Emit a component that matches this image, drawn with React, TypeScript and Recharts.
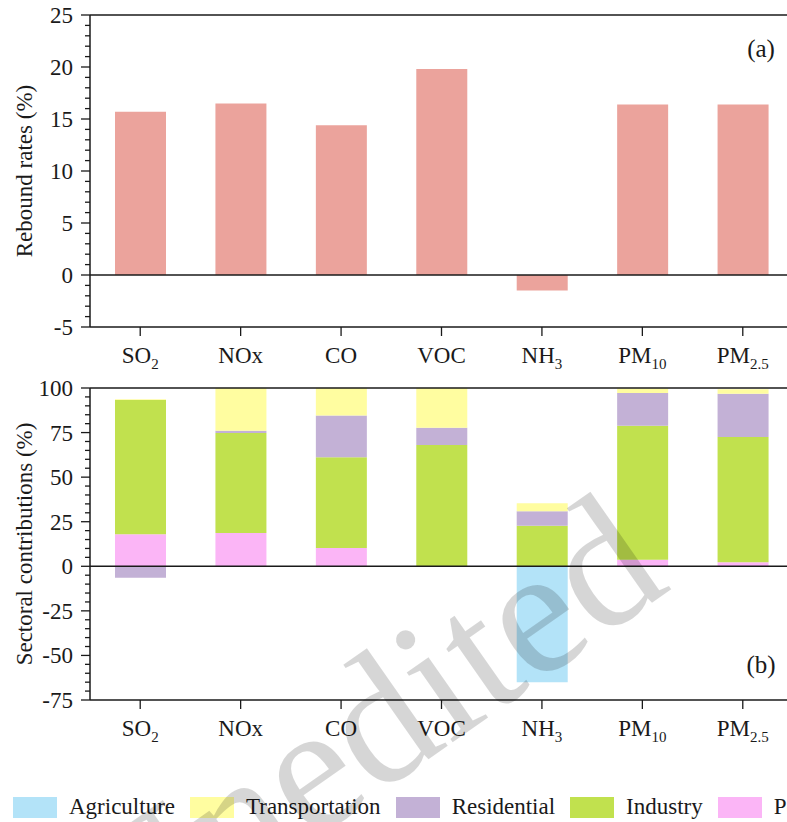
import { BarChart, Bar, XAxis, YAxis, ReferenceLine } from 'recharts';

// pollutant categories (digits after the letters are drawn as subscripts)
const categories = ['SO2', 'NOx', 'CO', 'VOC', 'NH3', 'PM10', 'PM2.5'];

// (a) rebound rates, %
const reboundRates = [15.7, 16.5, 14.4, 19.8, -1.5, 16.4, 16.4];

// (b) sectoral contributions, %
const power = [18.0, 18.7, 10.3, 0, 0, 3.7, 2.2];
const industry = [75.3, 56.0, 50.9, 68.0, 22.8, 75.1, 70.3];
const residential = [-6.4, 1.3, 23.4, 9.7, 8.1, 18.4, 24.3];
const transportation = [0.4, 24.0, 15.4, 22.3, 4.5, 2.5, 2.5];
const agriculture = [0, 0, 0, 0, -65.0, 0, 0];

const ticksA = Array.from({ length: 31 }, (_, i) => i - 5);
const ticksB = Array.from({ length: 36 }, (_, i) => i * 5 - 75);

// legend order as shown below the chart
const sectors = [
  { key: 'agriculture', name: 'Agriculture', color: '#b3e3f8' },
  { key: 'transportation', name: 'Transportation', color: '#fffda0' },
  { key: 'residential', name: 'Residential', color: '#c3b1d6' },
  { key: 'industry', name: 'Industry', color: '#c1e14e' },
  { key: 'power', name: 'Power', color: '#fbb5f6' },
];
// stacking order, bottom to top
const stackOrder = ['power', 'industry', 'residential', 'transportation', 'agriculture'];

const dataA = categories.map((name, i) => ({ name, rate: reboundRates[i] }));
const dataB = categories.map((name, i) => ({
  name,
  power: power[i],
  industry: industry[i],
  residential: residential[i],
  transportation: transportation[i],
  agriculture: agriculture[i],
}));

const FONT = "'Liberation Serif', 'Times New Roman', serif";
const INK = '#1a1a1a';

const XTick = ({ x, y, payload }: any) => {
  const m = String(payload.value).match(/^(.*?)([\d.]+)$/);
  const base = m ? m[1] : payload.value;
  const sub = m ? m[2] : null;
  return (
    <g>
      <line x1={x} x2={x} y1={y} y2={y + 9} stroke={INK} strokeWidth={1.3} />
      <text x={x} y={y + 36} textAnchor="middle" fontFamily={FONT} fontSize={23} fill={INK}>
        {base}
        {sub && <tspan fontSize={15} dy={6}>{sub}</tspan>}
      </text>
    </g>
  );
};

const makeYTick = (step: number) => ({ x, y, payload }: any) => {
  const v = payload.value;
  const major = v % step === 0;
  return (
    <g>
      <line x1={x - (major ? 9 : 5)} x2={x} y1={y} y2={y} stroke={INK} strokeWidth={1.3} />
      {major && (
        <text x={x - 17} y={y} dy="0.35em" textAnchor="end" fontFamily={FONT} fontSize={23} fill={INK}>
          {v}
        </text>
      )}
    </g>
  );
};

const YTickA = makeYTick(5);
const YTickB = makeYTick(25);

const AxisTitle = ({ viewBox, text }: any) => {
  const cy = viewBox ? viewBox.y + viewBox.height / 2 : 0;
  const cx = 24;
  return (
    <text
      x={cx}
      y={cy}
      transform={`rotate(-90 ${cx} ${cy})`}
      textAnchor="middle"
      dy="0.35em"
      fontFamily={FONT}
      fontSize={23}
      fill={INK}
    >
      {text}
    </text>
  );
};

export default function App() {
  return (
    <div style={{ position: 'absolute', left: 0, top: 0, width: 787, height: 822, overflow: 'hidden', background: '#fff' }}>
      {/* (a) rebound rates */}
      <div style={{ position: 'absolute', left: 0, top: 0 }}>
        <BarChart width={800} height={380} data={dataA} margin={{ top: 15, right: 7, left: 0, bottom: 0 }}>
          <XAxis
            dataKey="name"
            height={53}
            tick={<XTick />}
            tickLine={false}
            tickSize={0}
            tickMargin={0}
            interval={0}
            axisLine={{ stroke: INK, strokeWidth: 1.5 }}
          />
          <YAxis
            width={90}
            domain={[-5, 25]}
            ticks={ticksA}
            interval={0}
            tick={<YTickA />}
            tickLine={false}
            tickSize={0}
            tickMargin={0}
            axisLine={{ stroke: INK, strokeWidth: 1.5 }}
            label={<AxisTitle text="Rebound rates (%)" />}
          />
          <Bar dataKey="rate" fill="#eba39c" barSize={51} isAnimationActive={false} />
          <ReferenceLine y={0} stroke={INK} strokeWidth={1.5} />
          <ReferenceLine y={25} stroke={INK} strokeWidth={1.5} />
        </BarChart>
      </div>

      {/* (b) sectoral contributions */}
      <div style={{ position: 'absolute', left: 0, top: 340 }}>
        <BarChart
          width={800}
          height={420}
          data={dataB}
          stackOffset="sign"
          margin={{ top: 48, right: 7, left: 0, bottom: 0 }}
        >
          <XAxis
            dataKey="name"
            height={60}
            tick={<XTick />}
            tickLine={false}
            tickSize={0}
            tickMargin={0}
            interval={0}
            axisLine={{ stroke: INK, strokeWidth: 1.5 }}
          />
          <YAxis
            width={90}
            domain={[-75, 100]}
            ticks={ticksB}
            interval={0}
            tick={<YTickB />}
            tickLine={false}
            tickSize={0}
            tickMargin={0}
            axisLine={{ stroke: INK, strokeWidth: 1.5 }}
            label={<AxisTitle text="Sectoral contributions (%)" />}
          />
          {stackOrder.map((k) => {
            const s = sectors.find((d) => d.key === k)!;
            return (
              <Bar key={k} dataKey={k} name={s.name} stackId="s" fill={s.color} barSize={51} isAnimationActive={false} />
            );
          })}
          <ReferenceLine y={0} stroke={INK} strokeWidth={1.5} />
          <ReferenceLine y={100} stroke={INK} strokeWidth={1.5} />
        </BarChart>
      </div>

      {/* legend */}
      <div
        style={{
          position: 'absolute',
          left: 13,
          top: 794,
          display: 'flex',
          alignItems: 'center',
          whiteSpace: 'nowrap',
          fontFamily: FONT,
          fontSize: 23,
          color: INK,
        }}
      >
        {sectors.map((s) => (
          <div key={s.key} style={{ display: 'flex', alignItems: 'center' }}>
            <span style={{ display: 'inline-block', width: 44, height: 21, background: s.color, marginRight: 12 }} />
            <span style={{ marginRight: 15 }}>{s.name}</span>
          </div>
        ))}
      </div>

      {/* panel letters and watermark */}
      <svg width={787} height={822} style={{ position: 'absolute', left: 0, top: 0, pointerEvents: 'none' }}>
        <text x={761} y={57} textAnchor="middle" fontFamily={FONT} fontSize={25} fill={INK}>(a)</text>
        <text x={761} y={673} textAnchor="middle" fontFamily={FONT} fontSize={25} fill={INK}>(b)</text>
        <text
          x={673}
          y={588}
          transform="rotate(-35 673 588)"
          textAnchor="end"
          fontFamily={FONT}
          fontSize={182}
          fill="#000"
          fillOpacity={0.16}
        >
          Unedited
        </text>
      </svg>
    </div>
  );
}
